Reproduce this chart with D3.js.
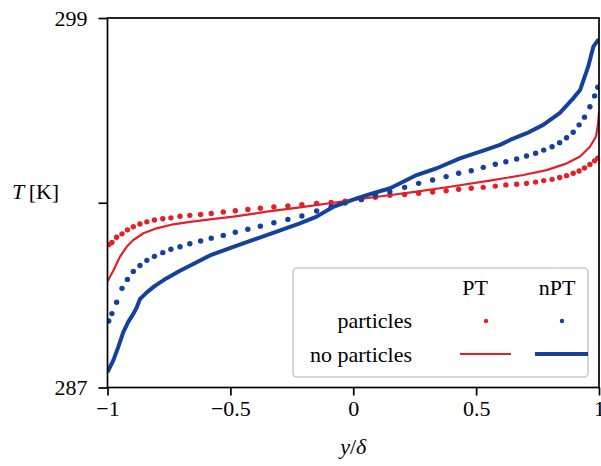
<!DOCTYPE html>
<html>
<head>
<meta charset="utf-8">
<script src="https://cdn.jsdelivr.net/npm/d3@7"></script>
<style>
  body { margin: 0; background: #fff; }
  svg text { font-family: "Liberation Serif", "DejaVu Serif", serif; fill: #000; }
</style>
</head>
<body>
<svg id="chart" width="601" height="466"></svg>
<script>
// wall-normal grid of the dotted (particle) runs
const yGrid = [-0.995, -0.982, -0.963, -0.941, -0.919, -0.895, -0.868, -0.840, -0.809, -0.775,
  -0.742, -0.705, -0.665, -0.621, -0.578, -0.529, -0.480, -0.429, -0.378, -0.323,
  -0.266, -0.209, -0.149, -0.090, -0.033, 0.033, 0.090, 0.149, 0.209, 0.266,
  0.323, 0.378, 0.429, 0.480, 0.529, 0.578, 0.621, 0.665, 0.705, 0.742,
  0.775, 0.809, 0.840, 0.868, 0.895, 0.919, 0.941, 0.963, 0.982, 0.995]

const tDotsPT = [291.64, 291.71, 291.88, 291.99, 292.12, 292.22, 292.31, 292.38, 292.44, 292.48,
  292.51, 292.56, 292.59, 292.62, 292.65, 292.70, 292.74, 292.78, 292.82, 292.86,
  292.90, 292.94, 292.98, 293.01, 293.05, 293.10, 293.18, 293.24, 293.27, 293.31,
  293.35, 293.39, 293.44, 293.47, 293.50, 293.54, 293.58, 293.60, 293.63, 293.67,
  293.72, 293.76, 293.82, 293.88, 293.96, 294.03, 294.13, 294.24, 294.36, 294.45]

const tDotsNPT = [289.16, 289.40, 289.77, 290.22, 290.51, 290.77, 290.96, 291.13, 291.26, 291.38,
  291.49, 291.57, 291.67, 291.76, 291.85, 291.94, 292.04, 292.14, 292.24, 292.35,
  292.46, 292.57, 292.73, 292.87, 292.99, 293.11, 293.25, 293.36, 293.50, 293.63,
  293.74, 293.85, 293.96, 294.04, 294.15, 294.25, 294.33, 294.42, 294.52, 294.61,
  294.71, 294.82, 294.95, 295.11, 295.29, 295.53, 295.78, 296.12, 296.47, 296.75]

// no-particle runs (solid lines)
const xLinePT = [-1.0, -0.976, -0.969, -0.949, -0.922, -0.895, -0.854, -0.800, -0.732, -0.664,
  -0.583, -0.488, -0.352, -0.217, -0.081, 0.014, 0.122, 0.258, 0.394, 0.556,
  0.692, 0.787, 0.869, 0.923, 0.963, 0.988, 0.997, 1.0]
const tLinePT = [290.45, 290.80, 290.92, 291.25, 291.57, 291.79, 292.01, 292.17, 292.30, 292.38,
  292.46, 292.55, 292.71, 292.85, 293.00, 293.11, 293.22, 293.36, 293.52, 293.72,
  293.90, 294.06, 294.28, 294.50, 294.82, 295.15, 295.62, 295.95]

const xLineNPT = [-1.0, -0.976, -0.956, -0.936, -0.915, -0.895, -0.882, -0.868, -0.840, -0.807,
  -0.759, -0.705, -0.651, -0.583, -0.488, -0.352, -0.217, -0.149, -0.081, 0.014,
  0.068, 0.150, 0.258, 0.340, 0.434, 0.529, 0.597, 0.638, 0.706, 0.773,
  0.841, 0.895, 0.923, 0.956, 0.977, 0.993, 1.0]
const tLineNPT = [287.50, 287.89, 288.32, 288.79, 289.14, 289.39, 289.58, 289.87, 290.09, 290.30,
  290.55, 290.79, 291.01, 291.29, 291.57, 291.95, 292.33, 292.55, 292.87, 293.14,
  293.28, 293.47, 293.90, 294.12, 294.44, 294.69, 294.88, 295.04, 295.26, 295.53,
  295.92, 296.39, 296.66, 297.42, 298.07, 298.25, 298.30]

const xTicks = [-1, -0.5, 0, 0.5, 1]
const yTicks = [287, 293, 299]
const yTickLabels = ["287", "", "299"]

const config = {
  margin: {left: 107.5, top: 18, right: 2, bottom: 78.5},
  red: "#e3202a",
  blue: "#15409b",
  fontSize: 22
}
const width = 601, height = 466
const figW = width - config.margin.left - config.margin.right
const figH = height - config.margin.top - config.margin.bottom

const svg = d3.select("#chart")
const fig = svg.append("g")
  .attr("transform", "translate(" + config.margin.left + "," + config.margin.top + ")")

const x = d3.scaleLinear().domain([-1, 1]).range([0, figW])
const y = d3.scaleLinear().domain([287, 299]).range([figH, 0])

fig.append("clipPath").attr("id", "clip")
  .append("rect").attr("width", figW).attr("height", figH)

const plot = fig.append("g").attr("clip-path", "url(#clip)")

function drawLine(xs, ts, color, w) {
  const pts = xs.map((v, i) => [v, ts[i]])
  plot.append("path")
    .datum(pts)
    .attr("fill", "none")
    .attr("stroke", color)
    .attr("stroke-width", w)
    .attr("stroke-linejoin", "round")
    .attr("d", d3.line().x(d => x(d[0])).y(d => y(d[1])))
}

function drawDots(ts, color) {
  plot.append("g")
    .selectAll("circle")
    .data(yGrid.map((v, i) => [v, ts[i]]))
    .join("circle")
    .attr("cx", d => x(d[0]))
    .attr("cy", d => y(d[1]))
    .attr("r", 2.7)
    .attr("fill", color)
}

drawLine(xLinePT, tLinePT, config.red, 2.2)
drawLine(xLineNPT, tLineNPT, config.blue, 4)
drawDots(tDotsPT, config.red)
drawDots(tDotsNPT, config.blue)

// axes
const fmt = d => d3.format("")(d).replace("-", "\u2212")
const xAxis = d3.axisBottom(x).tickValues(xTicks).tickFormat(fmt).tickSize(8).tickPadding(5)
const yAxis = d3.axisLeft(y).tickValues(yTicks).tickFormat((d, i) => yTickLabels[i]).tickSize(9).tickPadding(11)

function styleAxis(g) {
  g.select(".domain").remove()
  g.selectAll(".tick line").attr("stroke", "#000").attr("stroke-width", 1.7)
  g.selectAll(".tick text")
    .style("font-family", "Liberation Serif, serif")
    .style("font-size", config.fontSize + "px")
    .attr("fill", "#000")
}

fig.append("g").attr("transform", "translate(0," + figH + ")").call(xAxis).call(styleAxis)
fig.append("g").call(yAxis).call(styleAxis)

fig.append("rect")
  .attr("width", figW).attr("height", figH)
  .attr("fill", "none").attr("stroke", "#000").attr("stroke-width", 1.7)

// axis labels
const xl = svg.append("text")
  .attr("x", config.margin.left + figW / 2).attr("y", 454)
  .attr("text-anchor", "middle")
  .style("font-size", config.fontSize + "px")
xl.append("tspan").attr("font-style", "italic").text("y")
xl.append("tspan").text("/")
xl.append("tspan").attr("font-style", "italic").text("δ")

const yl = svg.append("text")
  .attr("x", 12).attr("y", 199)
  .style("font-size", config.fontSize + "px")
yl.append("tspan").attr("font-style", "italic").text("T")
yl.append("tspan").text("\u2009[K]")

// legend
const leg = svg.append("g")
leg.append("rect")
  .attr("x", 293).attr("y", 268).attr("width", 295).attr("height", 109).attr("rx", 4)
  .attr("fill", "#fff").attr("fill-opacity", 0.8)
  .attr("stroke", "#cccccc").attr("stroke-width", 1.6)

const legText = [
  {t: "PT", x: 475, y: 295, a: "middle"},
  {t: "nPT", x: 557, y: 295, a: "middle"},
  {t: "particles", x: 412, y: 328, a: "end"},
  {t: "no particles", x: 412, y: 362, a: "end"}
]
leg.selectAll("text").data(legText).join("text")
  .attr("x", d => d.x).attr("y", d => d.y)
  .attr("text-anchor", d => d.a)
  .style("font-size", config.fontSize + "px")
  .text(d => d.t)

leg.append("circle").attr("cx", 486).attr("cy", 321).attr("r", 2.2).attr("fill", config.red)
leg.append("circle").attr("cx", 562).attr("cy", 321).attr("r", 2.2).attr("fill", config.blue)
leg.append("line").attr("x1", 460).attr("x2", 511).attr("y1", 354).attr("y2", 354)
  .attr("stroke", config.red).attr("stroke-width", 2.2)
leg.append("line").attr("x1", 535).attr("x2", 588).attr("y1", 354).attr("y2", 354)
  .attr("stroke", config.blue).attr("stroke-width", 4)
</script>
</body>
</html>
